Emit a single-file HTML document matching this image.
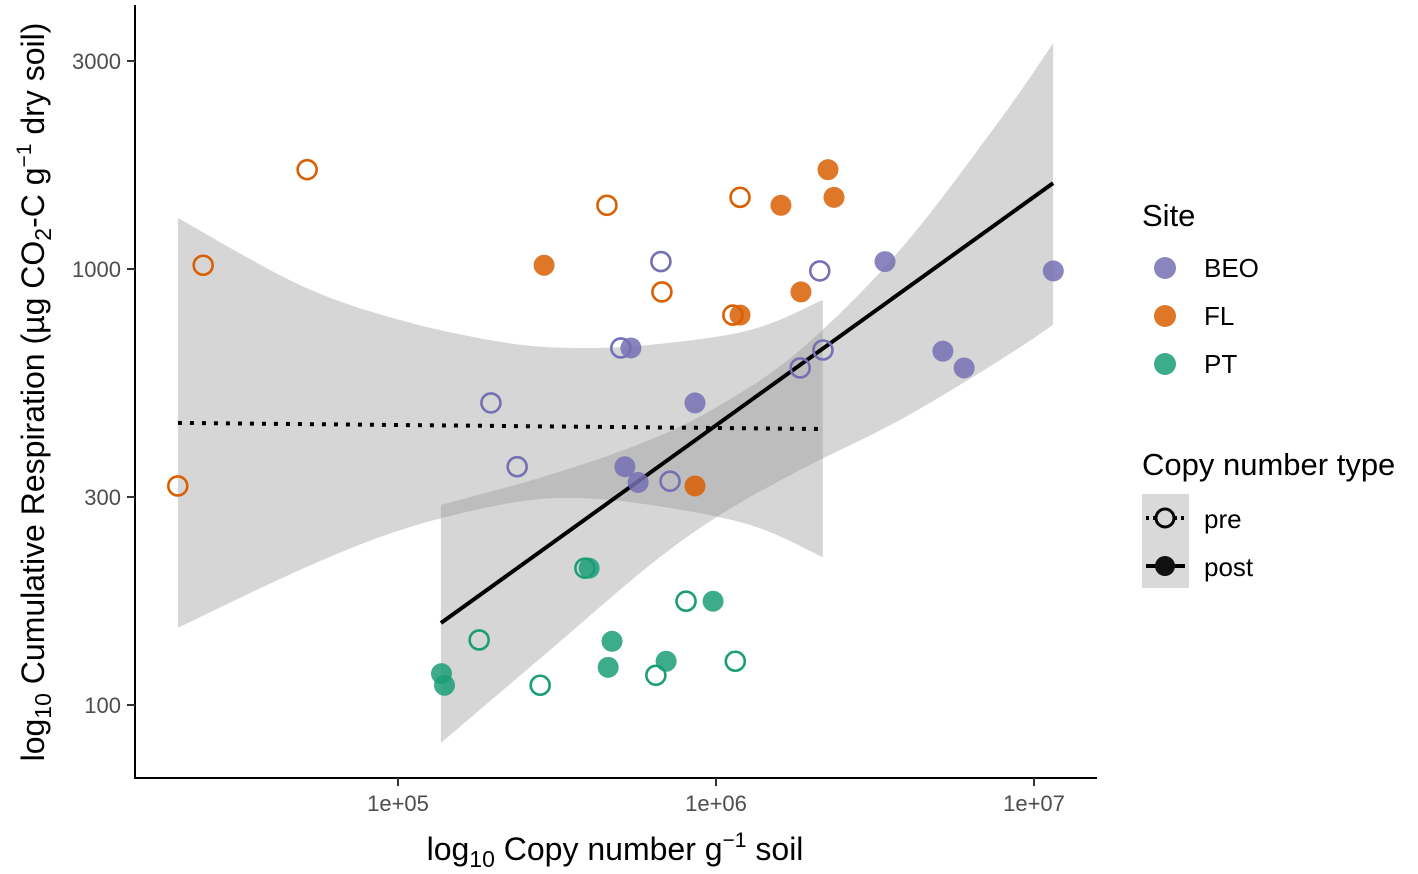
<!DOCTYPE html>
<html><head><meta charset="utf-8"><style>
body{margin:0;background:#fff;}
svg{display:block;font-family:"Liberation Sans",sans-serif;}
</style></head><body>
<svg id="chart" width="1418" height="874">
<g id="ribbons"></g><g id="lines"></g><g id="points"></g>
<g>
<line x1="135" y1="5" x2="135" y2="779" stroke="#000" stroke-width="2"/>
<line x1="134" y1="778" x2="1097" y2="778" stroke="#000" stroke-width="2"/>
</g>
<g id="ticks"></g>
<text x="615" y="860" text-anchor="middle" font-size="32">log<tspan font-size="23" dy="7">10</tspan><tspan dy="-7"> Copy number g</tspan><tspan font-size="21" dy="-13">−1</tspan><tspan dy="13"> soil</tspan></text>
<text transform="translate(44,392) rotate(-90)" text-anchor="middle" font-size="32">log<tspan font-size="23" dy="7">10</tspan><tspan dy="-7"> Cumulative Respiration (µg CO</tspan><tspan font-size="23" dy="7">2</tspan><tspan dy="-7">-C g</tspan><tspan font-size="21" dy="-13">−1</tspan><tspan dy="13"> dry soil)</tspan></text>
<g>
<text x="1142" y="226" font-size="31">Site</text>
<circle cx="1165" cy="268" r="11" fill="#7570b3" fill-opacity="0.85"/><text x="1204" y="277" font-size="26">BEO</text>
<circle cx="1165" cy="316" r="11" fill="#d95f02" fill-opacity="0.85"/><text x="1204" y="325" font-size="26">FL</text>
<circle cx="1165" cy="364" r="11" fill="#1b9e77" fill-opacity="0.85"/><text x="1204" y="373" font-size="26">PT</text>
<text x="1142" y="475" font-size="31">Copy number type</text>
<rect x="1142" y="494" width="47" height="94" fill="#d9d9d9"/>
<line x1="1146" y1="518" x2="1185" y2="518" stroke="#000" stroke-width="4" stroke-dasharray="3,4"/>
<circle cx="1165" cy="518" r="9" fill="#d9d9d9" stroke="#000" stroke-width="3"/>
<text x="1204" y="528" font-size="26">pre</text>
<line x1="1146" y1="566" x2="1185" y2="566" stroke="#000" stroke-width="4"/>
<circle cx="1165" cy="566" r="10" fill="#111"/>
<text x="1204" y="576" font-size="26">post</text>
</g>
</svg>
<script>
const xTicks=[1e5,1e6,1e7];
const xTickLabels=["1e+05","1e+06","1e+07"];
const yTicks=[100,300,1000,3000];
const yTickLabels=["100","300","1000","3000"];
const siteColors={BEO:"#7570b3",FL:"#d95f02",PT:"#1b9e77"};
const flPreX=[20300,24400,51800,454000,676000,1190000,1130000];
const flPreY=[318,1020,1690,1400,886,1460,784];
const flPostX=[288000,1600000,1850000,2250000,2350000,1190000,859000];
const flPostY=[1020,1400,886,1690,1460,784,318];
const beoPreX=[196000,237000,502000,671000,717000,1840000,2120000,2170000];
const beoPreY=[493,352,659,1040,326,593,990,652];
const beoPostX=[540000,517000,569000,859000,3400000,5170000,6030000,11500000];
const beoPostY=[659,352,324,493,1040,648,593,990];
const ptPreX=[180000,280000,387000,647000,805000,1150000];
const ptPreY=[141,111,206,117,173,126];
const ptPostX=[137000,140000,399000,471000,458000,697000,979000];
const ptPostY=[118,111,206,140,122,126,173];
const postFitX=[5.135,7.060];
const postFitY=[2.188,3.197];
const preFitX=[4.308,6.336];
const preFitY=[2.647,2.633];
const postRibX=[5.135,5.478,5.792,6.013,6.264,6.579,6.893,7.060];
const postRibHi=[2.459,2.528,2.608,2.688,2.814,3.044,3.342,3.518];
const postRibLo=[1.913,2.126,2.321,2.436,2.539,2.654,2.791,2.872];
const preRibX=[4.308,4.692,5.006,5.321,5.541,5.792,6.107,6.336];
const preRibHi=[3.117,2.963,2.883,2.833,2.819,2.826,2.860,2.929];
const preRibLo=[2.177,2.310,2.401,2.459,2.475,2.459,2.413,2.339];

const NS="http://www.w3.org/2000/svg";
const lx=l=>398+(l-5)*318, ly=l=>269-(l-3)*436;
const sx=v=>lx(Math.log10(v)), sy=v=>ly(Math.log10(v));
function mk(tag,attrs,parent){const e=document.createElementNS(NS,tag);for(const k in attrs)e.setAttribute(k,attrs[k]);document.getElementById(parent).appendChild(e);return e;}
function smooth(P){ // catmull-rom sampled
  const out=[];
  for(let i=0;i<P.length-1;i++){
    const p0=P[Math.max(0,i-1)],p1=P[i],p2=P[i+1],p3=P[Math.min(P.length-1,i+2)];
    for(let t=0;t<1;t+=0.1){
      const t2=t*t,t3=t2*t;
      const f=(a,b,c,d)=>0.5*((2*b)+(-a+c)*t+(2*a-5*b+4*c-d)*t2+(-a+3*b-3*c+d)*t3);
      out.push([f(p0[0],p1[0],p2[0],p3[0]),f(p0[1],p1[1],p2[1],p3[1])]);
    }
  }
  out.push(P[P.length-1]);return out;
}
function ribbon(xs,hi,lo,name){
  const top=smooth(xs.map((x,i)=>[lx(x),ly(hi[i])]));
  const bot=smooth(xs.map((x,i)=>[lx(x),ly(lo[i])])).reverse();
  const d="M"+top.concat(bot).map(p=>p[0].toFixed(1)+","+p[1].toFixed(1)).join("L")+"Z";
  const p=mk("path",{d:d,fill:"#999","fill-opacity":"0.4"},"ribbons");
  
  
}
ribbon(preRibX,preRibHi,preRibLo,"pre-confidence-band");
ribbon(postRibX,postRibHi,postRibLo,"post-confidence-band");
const l1=mk("line",{x1:lx(preFitX[0]),y1:ly(preFitY[0]),x2:lx(preFitX[1]),y2:ly(preFitY[1]),stroke:"#000","stroke-width":4,"stroke-dasharray":"4,8"},"lines");


const l2=mk("line",{x1:lx(postFitX[0]),y1:ly(postFitY[0]),x2:lx(postFitX[1]),y2:ly(postFitY[1]),stroke:"#000","stroke-width":4},"lines");


function pts(xs,ys,site,pre){
  xs.forEach((x,i)=>{
    const c=mk("circle",{cx:sx(x),cy:sy(ys[i]),r:pre?9.5:10.5},"points");
    if(pre){c.setAttribute("fill","none");c.setAttribute("stroke",siteColors[site]);c.setAttribute("stroke-width","2.6");}
    else{c.setAttribute("fill",siteColors[site]);c.setAttribute("fill-opacity","0.85");}
    
    
  });
}
pts(flPreX,flPreY,"FL",true);pts(flPostX,flPostY,"FL",false);
pts(beoPreX,beoPreY,"BEO",true);pts(beoPostX,beoPostY,"BEO",false);
pts(ptPreX,ptPreY,"PT",true);pts(ptPostX,ptPostY,"PT",false);
xTicks.forEach((v,i)=>{
  mk("line",{x1:sx(v),y1:778,x2:sx(v),y2:786,stroke:"#333","stroke-width":2},"ticks");
  const t=mk("text",{x:sx(v),y:811,"text-anchor":"middle","font-size":"22",fill:"#4d4d4d"},"ticks");
  t.textContent=xTickLabels[i];
  
  
});
yTicks.forEach((v,i)=>{
  mk("line",{x1:127,y1:sy(v),x2:135,y2:sy(v),stroke:"#333","stroke-width":2},"ticks");
  const t=mk("text",{x:121,y:sy(v)+8,"text-anchor":"end","font-size":"22",fill:"#4d4d4d"},"ticks");
  t.textContent=yTickLabels[i];
  
  
});
</script>
</body></html>
